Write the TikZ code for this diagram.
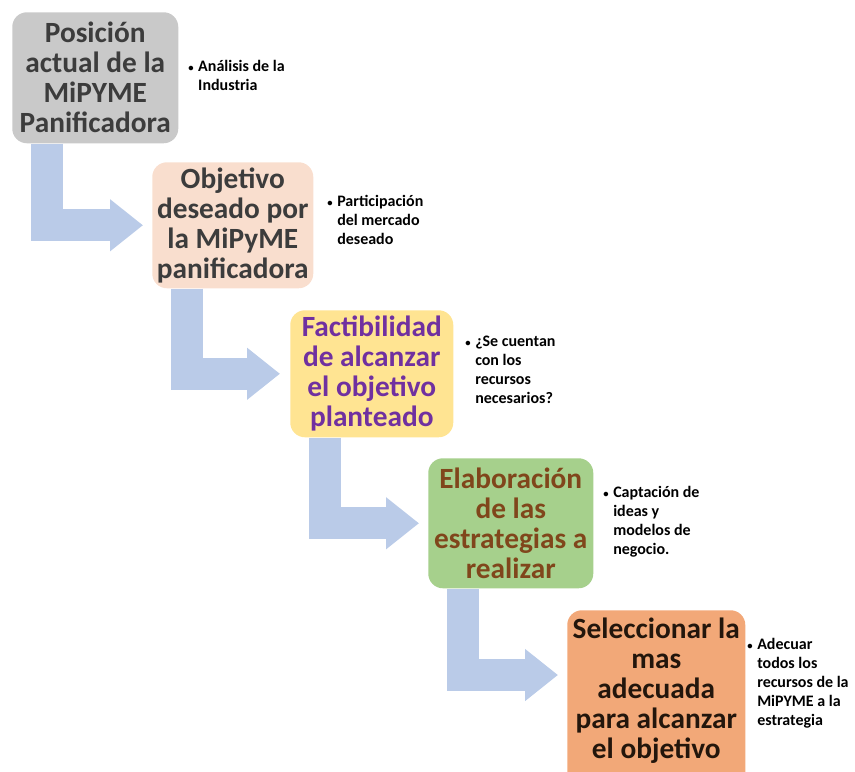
\documentclass[tikz,border=0pt]{standalone}
\usepackage{fontspec}
\setmainfont{Carlito}
\usetikzlibrary{arrows.meta,calc}

\definecolor{boxgray}{RGB}{201,201,201}
\definecolor{boxpeach}{RGB}{249,222,206}
\definecolor{boxyellow}{RGB}{255,228,146}
\definecolor{boxgreen}{RGB}{166,208,140}
\definecolor{boxorange}{RGB}{242,168,120}
\definecolor{flowblue}{RGB}{186,203,232}
\definecolor{txtgray}{RGB}{60,60,60}
\definecolor{txtpurple}{RGB}{112,48,160}
\definecolor{txtbrown}{RGB}{128,70,27}
\definecolor{txtdark}{RGB}{35,22,12}

% small list bullet and a hanging list of lines
\newcommand{\smallbul}{{\fontsize{8}{8}\selectfont\textbullet}}
\newcommand{\bulletlines}[1]{%
  \begin{tabular}{@{}l@{\hspace{3.5pt}}l@{}}#1\end{tabular}}

\begin{document}
\begin{tikzpicture}[x=0.75pt,y=-0.75pt,
  stepbox/.style={rectangle, rounded corners=11pt, inner sep=0pt,
    align=center, anchor=north west,
    font=\fontsize{22}{22.5}\selectfont\bfseries},
  note/.style={anchor=west, inner sep=0pt,
    font=\fontsize{12}{14.25}\selectfont\bfseries},
  flow/.style={draw=flowblue, line width=24pt,
    -{Triangle[length=24.75pt,width=37.5pt]}},
]
\useasboundingbox (0,0) rectangle (855,771);
\clip (0,0) rectangle (855,771);

% process steps
\node[stepbox, fill=boxgray, text=txtgray,
  minimum width=124.5pt, minimum height=98.25pt] (b1) at (12,12)
  {Posición\\actual de la\\MiPYME\\Panificadora};
\node[stepbox, fill=boxpeach, text=txtgray,
  minimum width=120.75pt, minimum height=94.5pt] (b2) at (152,162)
  {Objetivo\\deseado por\\la MiPyME\\panificadora};
\node[stepbox, fill=boxyellow, text=txtpurple,
  minimum width=122.25pt, minimum height=95.25pt] (b3) at (290,310)
  {Factibilidad\\de alcanzar\\el objetivo\\planteado};
\node[stepbox, fill=boxgreen, text=txtbrown,
  minimum width=123.75pt, minimum height=97.5pt] (b4) at (428,458)
  {Elaboración\\de las\\estrategias a\\realizar};
% the last step runs past the lower edge of the picture
\node[stepbox, fill=boxorange, text=txtdark, inner ysep=5.5pt,
  text depth=40pt, minimum width=133.5pt] (b5) at (567,610)
  {Seleccionar la\\mas\\adecuada\\para alcanzar\\el objetivo};

% bent connectors between the steps
\draw[flow] ([xshift=26.6pt]b1.south west) |- ([xshift=-6.75pt]b2.west);
\draw[flow] ([xshift=26.6pt]b2.south west) |- ([xshift=-7.5pt]b3.west);
\draw[flow] ([xshift=26.6pt]b3.south west) |- ([xshift=-6.75pt]b4.west);
\draw[flow] ([xshift=26.6pt]b4.south west) |- ($(b5.north west)+(-9,65)$);

% side notes
\node[note] (n1) at (188,77)
  {\bulletlines{\smallbul & Análisis de la\\ & Industria}};
\node[note] (n2) at (327,222)
  {\bulletlines{\smallbul & Participación\\ & del mercado\\ & deseado}};
\node[note] (n3) at (465,371)
  {\bulletlines{\smallbul & ¿Se cuentan\\ & con los\\ & recursos\\ & necesarios?}};
\node[note] (n4) at (603,522)
  {\bulletlines{\smallbul & Captación de\\ & ideas y\\ & modelos de\\ & negocio.}};
\node[note] (n5) at (747,684)
  {\bulletlines{\smallbul & Adecuar\\ & todos los\\ & recursos de la\\ & MiPYME a la\\ & estrategia}};
\end{tikzpicture}
\end{document}
